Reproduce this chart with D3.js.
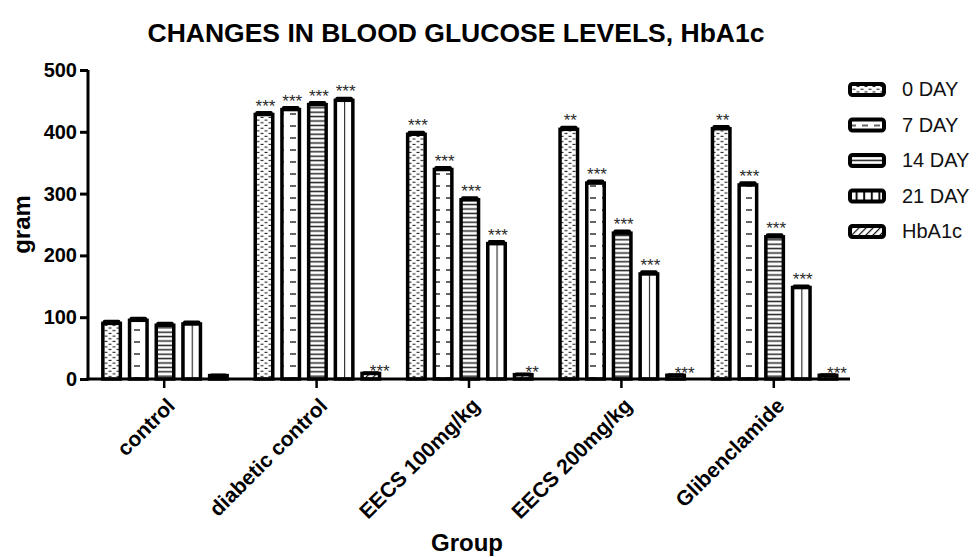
<!DOCTYPE html>
<html>
<head>
<meta charset="utf-8">
<script src="https://cdn.jsdelivr.net/npm/d3@7/dist/d3.min.js"></script>
<style>
  html, body { margin: 0; padding: 0; background: #fff; }
  svg { display: block; font-family: "Liberation Sans", Arial, sans-serif; }
</style>
</head>
<body>
<svg id="chart" width="977" height="557"></svg>
<script>
// ---- data ----
const groups = ["control", "diabetic control", "EECS 100mg/kg", "EECS 200mg/kg", "Glibenclamide"];
const seriesNames = ["0 DAY", "7 DAY", "14 DAY", "21 DAY", "HbA1c"];
const day0  = [90, 428, 396, 404, 405];
const day7  = [95, 436, 339, 317, 314];
const day14 = [87, 444, 290, 236, 230];
const day21 = [89, 451, 219, 170, 148];
const hba1c = [5.5, 9, 7, 6, 6];
const sem0  = [3, 3, 3, 3, 3];
const sem7  = [3, 3, 3, 3, 3];
const sem14 = [3, 3, 3, 3, 3];
const sem21 = [3, 3, 3, 3, 2];
const semH  = [0.5, 0.6, 0.5, 0.5, 0.5];
const stars0  = ["", "***", "***", "**", "**"];
const stars7  = ["", "***", "***", "***", "***"];
const stars14 = ["", "***", "***", "***", "***"];
const stars21 = ["", "***", "***", "***", "***"];
const starsH  = ["", "***", "**", "***", "***"];
const yTicks = [0, 100, 200, 300, 400, 500];
const chartTitle = "CHANGES IN BLOOD GLUCOSE LEVELS, HbA1c";
const xTitle = "Group";
const yTitle = "gram";

const valuesBySeries = [day0, day7, day14, day21, hba1c];
const semBySeries = [sem0, sem7, sem14, sem21, semH];
const starsBySeries = [stars0, stars7, stars14, stars21, starsH];

const rows = [];
groups.forEach((g, gi) => {
  seriesNames.forEach((s, si) => {
    rows.push({ group: g, series: s, si, value: valuesBySeries[si][gi], sem: semBySeries[si][gi], stars: starsBySeries[si][gi] });
  });
});

// ---- layout ----
const svg = d3.select("#chart");
const pLeft = 88, pRight = 850, pTop = 70, pBottom = 379;

const x0 = d3.scaleBand().domain(groups).range([pLeft, pRight]).padding(0);
const half = 66.75;
const x1 = d3.scaleBand().domain(seriesNames).range([x0.bandwidth() / 2 - half + 0.8, x0.bandwidth() / 2 + half + 0.8]).padding(0);
const y = d3.scaleLinear().domain([0, 500]).range([pBottom, pTop]);
const barW = 17.5;

// ---- patterns ----
const defs = svg.append("defs");
const p0 = defs.append("pattern").attr("id", "pat0").attr("patternUnits", "userSpaceOnUse")
  .attr("width", 8).attr("height", 5.4);
p0.append("rect").attr("width", 8).attr("height", 5.4).attr("fill", "#fff");
p0.append("line").attr("x1", 0.5).attr("x2", 3.5).attr("y1", 1.3).attr("y2", 1.3).attr("stroke", "#222").attr("stroke-width", 1.1);
p0.append("line").attr("x1", 4.5).attr("x2", 7.5).attr("y1", 4.0).attr("y2", 4.0).attr("stroke", "#222").attr("stroke-width", 1.1);
const p1 = defs.append("pattern").attr("id", "pat1").attr("patternUnits", "userSpaceOnUse")
  .attr("width", 12).attr("height", 12);
p1.append("rect").attr("width", 12).attr("height", 12).attr("fill", "#fff");
p1.append("line").attr("x1", 2).attr("x2", 8).attr("y1", 6).attr("y2", 6).attr("stroke", "#111").attr("stroke-width", 1.3);
const p2 = defs.append("pattern").attr("id", "pat2").attr("patternUnits", "userSpaceOnUse")
  .attr("width", 8).attr("height", 4.4);
p2.append("rect").attr("width", 8).attr("height", 4.4).attr("fill", "#fff");
p2.append("line").attr("x1", 0).attr("x2", 8).attr("y1", 2.2).attr("y2", 2.2).attr("stroke", "#222").attr("stroke-width", 1.5);
const p3 = defs.append("pattern").attr("id", "pat3").attr("patternUnits", "objectBoundingBox")
  .attr("width", 0.5).attr("height", 1);
p3.append("rect").attr("width", 40).attr("height", 400).attr("fill", "#fff");
p3.append("line").attr("x1", 0).attr("x2", 0).attr("y1", 0).attr("y2", 400).attr("stroke", "#222").attr("stroke-width", 2.2);
const p3l = defs.append("pattern").attr("id", "pat3l").attr("patternUnits", "userSpaceOnUse")
  .attr("width", 7.6).attr("height", 20);
p3l.append("rect").attr("width", 7.6).attr("height", 20).attr("fill", "#fff");
p3l.append("line").attr("x1", 1).attr("x2", 1).attr("y1", 0).attr("y2", 20).attr("stroke", "#111").attr("stroke-width", 2);
const p4 = defs.append("pattern").attr("id", "pat4").attr("patternUnits", "userSpaceOnUse")
  .attr("width", 5).attr("height", 5).attr("patternTransform", "rotate(45)");
p4.append("rect").attr("width", 5).attr("height", 5).attr("fill", "#fff");
p4.append("line").attr("x1", 0).attr("x2", 0).attr("y1", 0).attr("y2", 5).attr("stroke", "#111").attr("stroke-width", 2.4);

const fills = ["url(#pat0)", "url(#pat1)", "url(#pat2)", "url(#pat3)", "url(#pat4)"];
const legendFills = ["url(#pat0)", "url(#pat1)", "url(#pat2)", "url(#pat3l)", "url(#pat4)"];

// ---- bars ----
const gBars = svg.append("g");
const cx = d => x0(d.group) + x1(d.series) + x1.bandwidth() / 2;

gBars.selectAll("rect.bar").data(rows).join("rect")
  .attr("class", "bar")
  .attr("x", d => cx(d) - barW / 2)
  .attr("y", d => y(d.value))
  .attr("width", barW)
  .attr("height", d => y(0) - y(d.value))
  .attr("fill", d => fills[d.si])
  .attr("stroke", "#000")
  .attr("stroke-width", 3.5);

gBars.selectAll("line.err").data(rows).join("line")
  .attr("class", "err")
  .attr("x1", cx).attr("x2", cx)
  .attr("y1", d => y(d.value)).attr("y2", d => y(d.value + d.sem))
  .attr("stroke", "#000").attr("stroke-width", 3);
gBars.selectAll("line.cap").data(rows).join("line")
  .attr("class", "cap")
  .attr("x1", d => cx(d) - 7).attr("x2", d => cx(d) + 7)
  .attr("y1", d => y(d.value + d.sem)).attr("y2", d => y(d.value + d.sem))
  .attr("stroke", "#000").attr("stroke-width", 3.5).attr("stroke-linecap", "round");

gBars.selectAll("text.star").data(rows.filter(d => d.stars)).join("text")
  .attr("class", "star")
  .attr("x", d => cx(d) + (d.si === 4 ? 9 : 1.5))
  .attr("y", d => y(d.value + d.sem) + (d.si === 4 ? 4 : -1))
  .attr("text-anchor", "middle")
  .attr("font-size", 17)
  .attr("fill", "#2a2a2a")
  .text(d => d.stars);

// ---- axes ----
const yAxis = svg.append("g").attr("transform", `translate(${pLeft},0)`)
  .call(d3.axisLeft(y).tickValues(yTicks).tickSize(8).tickPadding(3).tickSizeOuter(0));
yAxis.select(".domain").attr("stroke", "#000").attr("stroke-width", 3).attr("d", `M0,${y(0) + 1.5}V${pTop}`);
yAxis.selectAll(".tick line").attr("stroke", "#000").attr("stroke-width", 3);
yAxis.selectAll(".tick text").attr("font-size", 20).attr("font-weight", "bold").attr("fill", "#000")
  .attr("font-family", "Liberation Sans, Arial, sans-serif");

const xAxis = svg.append("g").attr("transform", `translate(0,${pBottom})`)
  .call(d3.axisBottom(x0).tickSize(9).tickSizeOuter(0));
xAxis.select(".domain").attr("stroke", "#000").attr("stroke-width", 3).attr("d", `M${pLeft - 1.5},0H${pRight}`);
xAxis.selectAll(".tick line").attr("stroke", "#000").attr("stroke-width", 2.5);
xAxis.selectAll(".tick text")
  .attr("font-size", 21).attr("font-weight", "bold").attr("fill", "#000")
  .attr("font-family", "Liberation Sans, Arial, sans-serif")
  .attr("text-anchor", "end")
  .attr("dy", 0)
  .attr("transform", "translate(12,28) rotate(-45)")
  .attr("y", 0).attr("x", 0);

// ---- titles ----
svg.append("text").attr("x", 456).attr("y", 42).attr("text-anchor", "middle")
  .attr("font-size", 26.5).attr("font-weight", "bold").text(chartTitle);
svg.append("text").attr("x", 467).attr("y", 551).attr("text-anchor", "middle")
  .attr("font-size", 24).attr("font-weight", "bold").text(xTitle);
svg.append("text").attr("transform", `translate(30,${(pTop + pBottom) / 2}) rotate(-90)`)
  .attr("text-anchor", "middle").attr("font-size", 24).attr("font-weight", "bold").text(yTitle);

// ---- legend ----
const legend = svg.append("g");
const lg = legend.selectAll("g").data(seriesNames).join("g")
  .attr("transform", (d, i) => `translate(848,${96 + i * 35.5})`);
lg.append("rect").attr("x", 2).attr("y", -12).attr("width", 34).attr("height", 11)
  .attr("rx", 2.5).attr("fill", (d, i) => legendFills[i]).attr("stroke", "#000").attr("stroke-width", 4);
lg.append("text").attr("x", 54).attr("y", 0).attr("font-size", 20).attr("fill", "#111").text(d => d);
</script>
</body>
</html>
